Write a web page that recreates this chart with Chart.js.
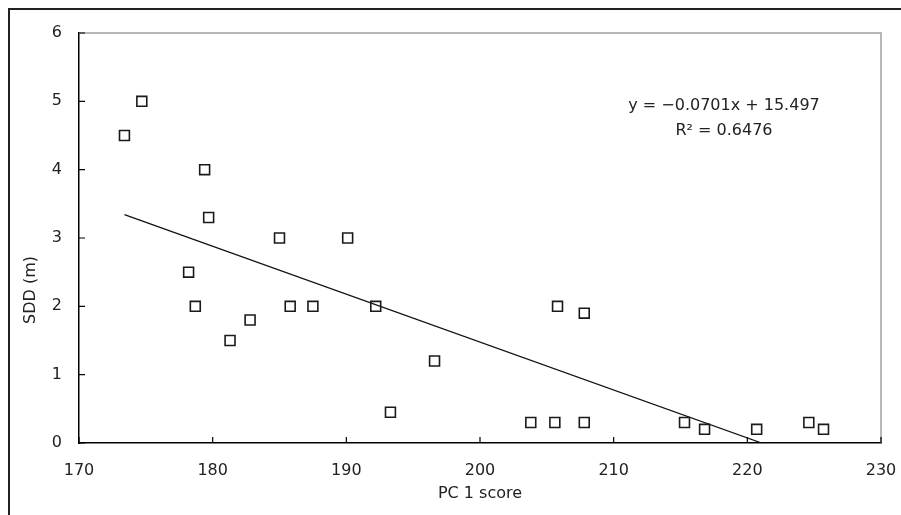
<!DOCTYPE html>
<html lang="en">
    <head>
        <meta charset="utf-8" />
        <script src="https://cdn.jsdelivr.net/npm/chart.js@4.4.1/dist/chart.umd.min.js"></script>
        <title>SDD vs PC 1 score</title>
        <style>
            html, body { margin: 0; padding: 0; background: #fff; }
            #wrap { width: 901px; height: 515px; position: relative; }
        </style>
    </head>
    <body>
        <div id="wrap"><canvas id="grafico"></canvas></div>
        <script>
            // puntos
            const pcScore = [173.4, 174.7, 179.4, 179.7, 178.2, 178.7, 181.3, 182.8, 185.0, 185.8, 187.5, 190.1, 192.2, 193.3, 196.6,
                             203.8, 205.6, 205.8, 207.8, 207.8, 215.3, 216.8, 220.7, 224.6, 225.7];
            const sdd = [4.5, 5.0, 4.0, 3.3, 2.5, 2.0, 1.5, 1.8, 3.0, 2.0, 2.0, 3.0, 2.0, 0.45, 1.2,
                         0.3, 0.3, 2.0, 1.9, 0.3, 0.3, 0.2, 0.2, 0.3, 0.2];
            // linea de tendencia (y = a x + b)
            const pendiente = -0.0701;
            const intercepto = 15.497;
            const ecuacion = ["y = \u22120.0701x + 15.497", "R\u00b2 = 0.6476"];
            const xTicks = [170, 180, 190, 200, 210, 220, 230];
            const yTicks = [0, 1, 2, 3, 4, 5, 6];

            const fuente = "'DejaVu Sans', sans-serif";

            const puntos = pcScore.map((x, i) => ({ x: x, y: sdd[i] }));
            const xMin = Math.min(...pcScore);
            const xCero = -intercepto / pendiente;
            const tendencia = [
                { x: xMin, y: pendiente * xMin + intercepto },
                { x: xCero, y: pendiente * xCero + intercepto }
            ];

            // marco, bordes grises y marcas hacia adentro
            const extras = {
                id: "extras",
                beforeDraw(chart) {
                    const ctx = chart.ctx;
                    ctx.save();
                    ctx.fillStyle = "#fff";
                    ctx.fillRect(0, 0, chart.width, chart.height);
                    ctx.strokeStyle = "#222";
                    ctx.lineWidth = 2;
                    ctx.strokeRect(9, 9, 1000, 1000);
                    ctx.restore();
                },
                afterDraw(chart) {
                    const ctx = chart.ctx;
                    const a = chart.chartArea;
                    const sx = chart.scales.x, sy = chart.scales.y;
                    ctx.save();
                    ctx.strokeStyle = "#a0a0a0";
                    ctx.lineWidth = 1.5;
                    ctx.beginPath();
                    ctx.moveTo(a.left, a.top);
                    ctx.lineTo(a.right, a.top);
                    ctx.lineTo(a.right, a.bottom);
                    ctx.stroke();
                    ctx.strokeStyle = "#000";
                    ctx.lineWidth = 1.2;
                    ctx.beginPath();
                    xTicks.forEach(v => {
                        const px = sx.getPixelForValue(v);
                        ctx.moveTo(px, a.bottom);
                        ctx.lineTo(px, a.bottom - 6);
                    });
                    yTicks.forEach(v => {
                        const py = sy.getPixelForValue(v);
                        ctx.moveTo(a.left, py);
                        ctx.lineTo(a.left + 6, py);
                    });
                    ctx.stroke();
                    // titulo eje y
                    ctx.fillStyle = "#222";
                    ctx.font = "16px " + fuente;
                    ctx.textAlign = "center";
                    ctx.textBaseline = "middle";
                    ctx.translate(31, 290);
                    ctx.rotate(-Math.PI / 2);
                    ctx.fillText("SDD (m)", 0, 0);
                    ctx.setTransform(1, 0, 0, 1, 0, 0);
                    // ecuacion
                    ctx.fillText(ecuacion[0], 724, 106);
                    ctx.fillText(ecuacion[1], 724, 131);
                    ctx.restore();
                }
            };

            Chart.defaults.font.family = fuente;
            Chart.defaults.font.size = 16;
            Chart.defaults.color = "#222";

            new Chart(document.getElementById("grafico"), {
                type: "scatter",
                data: {
                    datasets: [
                        {
                            label: "SDD",
                            data: puntos,
                            pointStyle: "rect",
                            pointRadius: 7,
                            pointHoverRadius: 7,
                            borderColor: "#1a1a1a",
                            backgroundColor: "rgba(255,255,255,0)",
                            pointBorderWidth: 1.6
                        },
                        {
                            type: "line",
                            label: "Tendencia",
                            data: tendencia,
                            borderColor: "#111",
                            borderWidth: 1.3,
                            pointRadius: 0,
                            fill: false
                        }
                    ]
                },
                options: {
                    responsive: true,
                    maintainAspectRatio: false,
                    animation: false,
                    events: [],
                    layout: { padding: { top: 33, right: 20, left: 0, bottom: 0 } },
                    plugins: {
                        legend: { display: false },
                        tooltip: { enabled: false }
                    },
                    scales: {
                        x: {
                            type: "linear",
                            min: 170,
                            max: 230,
                            afterBuildTicks: s => { s.ticks = xTicks.map(v => ({ value: v })); },
                            afterFit: s => { s.height = 72; s.paddingLeft = 0; s.paddingRight = 0; },
                            grid: { display: false, drawTicks: false },
                            border: { display: true, color: "#000", width: 1.5 },
                            ticks: { padding: 18, color: "#222" },
                            title: { display: true, text: "PC 1 score", color: "#222", padding: { top: 2, bottom: 12 } }
                        },
                        y: {
                            type: "linear",
                            min: 0,
                            max: 6,
                            afterBuildTicks: s => { s.ticks = yTicks.map(v => ({ value: v })); },
                            afterFit: s => { s.width = 79; s.paddingTop = 0; s.paddingBottom = 0; },
                            grid: { display: false, drawTicks: false },
                            border: { display: true, color: "#000", width: 1.5 },
                            ticks: { padding: 17, color: "#222" }
                        }
                    }
                },
                plugins: [extras]
            });
        </script>
    </body>
</html>
